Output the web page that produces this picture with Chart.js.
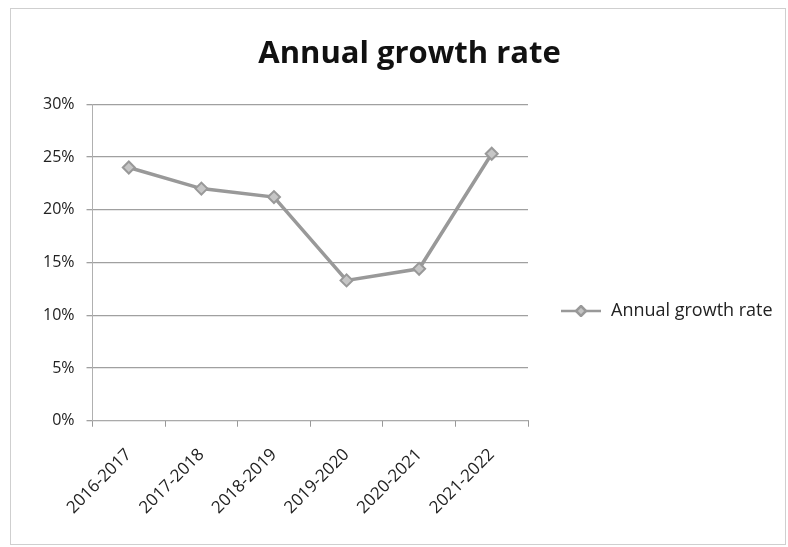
<!DOCTYPE html>
<html>
<head>
<meta charset="utf-8">
<script src="https://cdn.jsdelivr.net/npm/chart.js@4"></script>
<style>
  body { margin: 0; background: #fff; }
  #wrap { position: absolute; left: 10px; top: 8px; width: 776px; height: 537px; border: 1px solid #cfcfcf; box-sizing: border-box; }
  #chartBox { position: absolute; left: 0; top: 0; width: 788px; height: 547px; }
</style>
</head>
<body>
<div id="wrap"></div>
<div id="chartBox"><canvas id="Chart"></canvas></div>
<script>
// chart data
const years = ["2016-2017", "2017-2018", "2018-2019", "2019-2020", "2020-2021", "2021-2022"];
const growthRate = [24.0, 22.0, 21.2, 13.3, 14.4, 25.3];
const yTicks = [0, 5, 10, 15, 20, 25, 30];

const lineColor = '#999999';
const fontName = 'Open Sans';

// little line + diamond picture for the legend
function legendMark() {
    const c = document.createElement('canvas');
    c.width = 42; c.height = 12;
    const g = c.getContext('2d');
    g.strokeStyle = lineColor;
    g.lineWidth = 2.5;
    g.beginPath(); g.moveTo(1, 6); g.lineTo(41, 6); g.stroke();
    g.fillStyle = '#c4c4c4';
    g.beginPath(); g.moveTo(21, 1); g.lineTo(26, 6); g.lineTo(21, 11); g.lineTo(16, 6); g.closePath();
    g.fill(); g.stroke();
    return c;
}

// legend box: fixed width and pushed a bit lower, like the excel one
const legendPlace = {
    id: 'legendPlace',
    afterInit(chart) {
        const lg = chart.legend;
        const fit = lg.fit;
        lg.fit = function () {
            fit.call(this);
            this.width = 260;
        };
    },
    afterLayout(chart) {
        const lg = chart.legend;
        const shift = 25;
        lg.top += shift;
        lg.bottom += shift;
    }
};

const ctx = document.getElementById('Chart').getContext('2d');
const myChart = new Chart(ctx, {
    type: 'line',
    data: {
        labels: years,
        datasets: [{
            label: 'Annual growth rate',
            data: growthRate,
            borderColor: lineColor,
            borderWidth: 3.5,
            pointStyle: 'rectRot',
            pointRadius: 6,
            pointBackgroundColor: '#c6c6c6',
            pointBorderColor: lineColor,
            pointBorderWidth: 2,
            tension: 0
        }]
    },
    options: {
        responsive: true,
        maintainAspectRatio: false,
        animation: false,
        layout: { padding: { left: 31, right: 0, top: 36, bottom: 11 } },
        plugins: {
            title: {
                display: true,
                text: 'Annual growth rate',
                color: '#111',
                font: { family: fontName, size: 31, weight: 'bold' },
                padding: { top: 0, bottom: 31 }
            },
            legend: {
                position: 'right',
                labels: {
                    usePointStyle: true,
                    pointStyle: legendMark(),
                    pointStyleWidth: 42,
                    color: '#222',
                    font: { family: fontName, size: 18 },
                    padding: 32
                }
            },
            tooltip: { enabled: false }
        },
        scales: {
            x: {
                offset: true,
                grid: { display: true, drawOnChartArea: false, offset: true, tickLength: 6, color: '#999' },
                border: { color: '#aaa' },
                ticks: {
                    minRotation: 45,
                    maxRotation: 45,
                    color: '#222',
                    padding: 18,
                    font: { family: fontName, size: 17 }
                }
            },
            y: {
                min: 0,
                max: 30,
                afterBuildTicks: axis => { axis.ticks = yTicks.map(v => ({ value: v })); },
                grid: { color: '#a0a0a0', lineWidth: 1.3, tickLength: 6 },
                border: { color: '#b0b0b0' },
                ticks: {
                    color: '#222',
                    font: { family: fontName, size: 16 },
                    padding: 12,
                    callback: v => v + '%'
                }
            }
        }
    },
    plugins: [legendPlace]
});
</script>
</body>
</html>
